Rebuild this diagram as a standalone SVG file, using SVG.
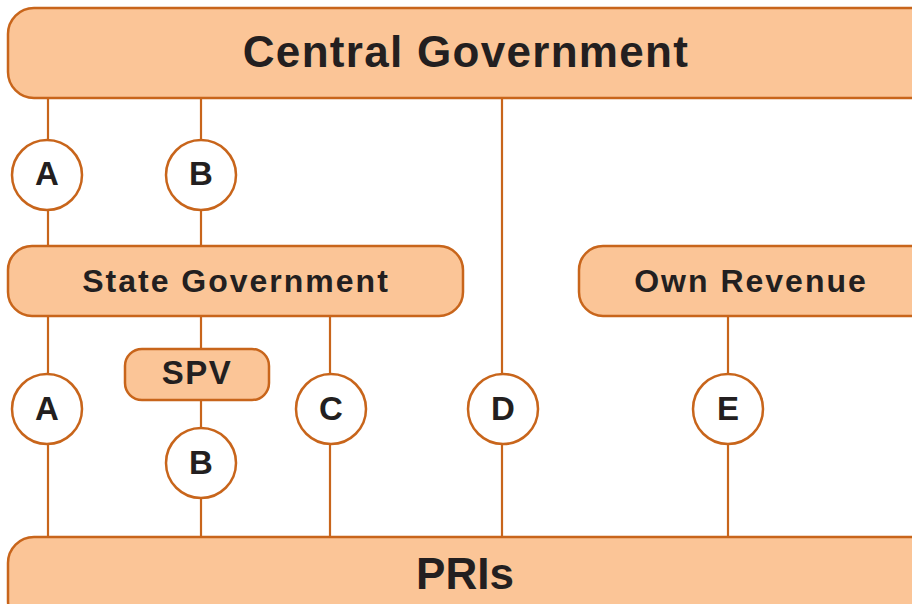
<svg xmlns="http://www.w3.org/2000/svg" width="912" height="604" viewBox="0 0 912 604">
  <style>
    .box { fill: #FBC597; stroke: #C8651B; stroke-width: 2.5; }
    .dot { fill: #FFFFFF; stroke: #C8651B; stroke-width: 2.5; }
    .wire { stroke: #C8651B; stroke-width: 2.2; fill: none; }
    text { font-family: "Liberation Sans", Arial, sans-serif; font-weight: bold; fill: #231F20; text-anchor: middle; }
    .big { font-size: 44px; letter-spacing: 1.3px; }
    .mid { font-size: 32px; letter-spacing: 2px; }
    .spv { font-size: 33px; letter-spacing: 1.5px; }
    .lbl { font-size: 33px; }
    .pri { font-size: 44px; }
  </style>
  <rect width="912" height="604" fill="#FFFFFF"/>

  <!-- connectors -->
  <g id="connectors" class="wire">
    <line x1="48" y1="98" x2="48" y2="246"/>
    <line x1="201" y1="98" x2="201" y2="246"/>
    <line x1="502" y1="98" x2="502" y2="538"/>
    <line x1="48" y1="316" x2="48" y2="538"/>
    <line x1="201" y1="316" x2="201" y2="349"/>
    <line x1="201" y1="400" x2="201" y2="538"/>
    <line x1="330" y1="316" x2="330" y2="538"/>
    <line x1="728" y1="316" x2="728" y2="538"/>
  </g>

  <g id="central-government">
    <rect class="box" x="8" y="8" width="930" height="90" rx="26"/>
    <text class="big" x="466" y="67">Central Government</text>
  </g>

  <g id="state-government">
    <rect class="box" x="8" y="246" width="455" height="70" rx="24"/>
    <text class="mid" x="236" y="292">State Government</text>
  </g>

  <g id="own-revenue">
    <rect class="box" x="579" y="246" width="360" height="70" rx="24"/>
    <text class="mid" x="751" y="292">Own Revenue</text>
  </g>

  <g id="spv">
    <rect class="box" x="125" y="349" width="144" height="51" rx="17"/>
    <text class="spv" x="197" y="384">SPV</text>
  </g>

  <g id="pris">
    <rect class="box" x="8" y="537" width="930" height="90" rx="26"/>
    <text class="pri" x="465" y="589">PRIs</text>
  </g>

  <g id="a-top"><circle class="dot" cx="47" cy="175" r="35"/><text class="lbl" x="47" y="185">A</text></g>
  <g id="b-top"><circle class="dot" cx="201" cy="175" r="35"/><text class="lbl" x="201" y="185">B</text></g>
  <g id="a-low"><circle class="dot" cx="47" cy="409" r="35"/><text class="lbl" x="47" y="420">A</text></g>
  <g id="b-low"><circle class="dot" cx="201" cy="463" r="35"/><text class="lbl" x="201" y="474">B</text></g>
  <g id="c-low"><circle class="dot" cx="331" cy="409" r="35"/><text class="lbl" x="331" y="420">C</text></g>
  <g id="d-low"><circle class="dot" cx="503" cy="409" r="35"/><text class="lbl" x="503" y="420">D</text></g>
  <g id="e-low"><circle class="dot" cx="728" cy="409" r="35"/><text class="lbl" x="728" y="420">E</text></g>
</svg>
